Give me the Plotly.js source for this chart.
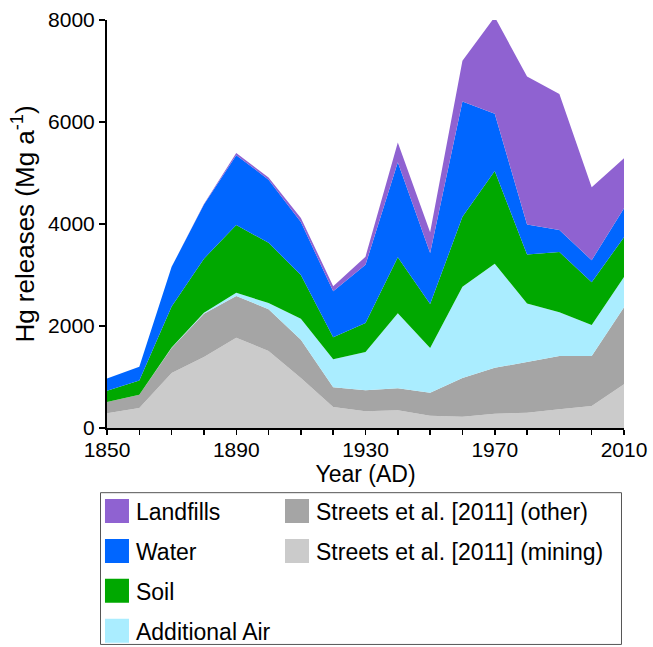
<!DOCTYPE html>
<html>
<head>
<meta charset="utf-8">
<script src="https://cdn.plot.ly/plotly-3.0.1.min.js"></script>
<style>html,body{margin:0;padding:0;background:#fff;}#chart{width:653px;height:647px;}</style>
</head>
<body>
<div id="chart"></div>
<script>
const years = [1850,1860,1870,1880,1890,1900,1910,1920,1930,1940,1950,1960,1970,1980,1990,2000,2010];
const mining    = [290, 390,1080,1390,1770,1510, 980, 410, 330, 350, 240, 220, 280, 300, 370, 430, 860];
const other     = [220, 260, 490, 850, 820, 820, 750, 390, 410, 430, 450, 760, 900,1000,1040, 980,1510];
const addAir    = [  0,   0,  10,  20,  60, 120, 410, 550, 750,1470, 880,1790,2040,1140, 860, 610, 590];
const soil      = [220, 280, 800,1060,1330,1180, 860, 430, 570,1100, 860,1370,1820, 960,1180, 840, 780];
const water     = [240, 270, 780,1060,1370,1240,1040, 900,1140,1860,1000,2260,1120, 590, 430, 430, 570];
const landfills = [  0,   0,   0,  10,  40,  40,  80, 100, 160, 390, 410, 800,1900,2900,2670,1430, 980];

const seriesNames = ['Streets et al. [2011] (mining)','Streets et al. [2011] (other)','Additional Air','Soil','Water','Landfills'];
const seriesColors = ['#cbcbcb','#a5a5a5','#aaedff','#00a800','#0066ff','#8f62d1'];
const seriesLegend = ['legend2','legend2','legend','legend','legend','legend'];
const seriesRank = [2,1,4,3,2,1];
const seriesData = [mining, other, addAir, soil, water, landfills];

const xTickVals = [1850,1860,1870,1880,1890,1900,1910,1920,1930,1940,1950,1960,1970,1980,1990,2000,2010];
const xTickText = ['1850','','','','1890','','','','1930','','','','1970','','','','2010'];

const traces = seriesData.map((vals, i) => ({
  type: 'scatter',
  mode: 'lines',
  x: years,
  y: vals,
  name: seriesNames[i],
  stackgroup: 'one',
  fill: 'tonexty',
  fillcolor: seriesColors[i],
  line: {width: 0, color: seriesColors[i]},
  legend: seriesLegend[i],
  legendgroup: 'g' + i,
  legendrank: seriesRank[i],
  hoverinfo: 'x+y+name'
}));

const font = {family: '"Liberation Sans", Arial, sans-serif', color: '#000'};
const legendCommon = {
  orientation: 'v', xanchor: 'left', yanchor: 'top',
  bgcolor: 'rgba(0,0,0,0)', borderwidth: 0,
  font: {family: font.family, size: 23, color: '#000'},
  traceorder: 'grouped', tracegroupgap: 7
};

const layout = {
  width: 653, height: 647,
  margin: {l: 107, r: 29, t: 20, b: 219, autoexpand: false},
  paper_bgcolor: '#fff', plot_bgcolor: '#fff',
  font: font,
  showlegend: true,
  xaxis: {
    range: [1850, 2010],
    tickmode: 'array', tickvals: xTickVals, ticktext: xTickText,
    ticks: 'outside', ticklen: 5, tickwidth: 1.5, tickcolor: '#000',
    ticklabelstandoff: -3,
    showline: true, linecolor: '#000', linewidth: 2,
    showgrid: false, zeroline: false,
    tickfont: {family: font.family, size: 21, color: '#000'},
    title: {text: 'Year (AD)', font: {family: font.family, size: 23, color: '#000'}, standoff: 0}
  },
  yaxis: {
    range: [0, 8000],
    tickvals: [0, 2000, 4000, 6000, 8000],
    ticks: 'outside', ticklen: 6, tickwidth: 1.5, tickcolor: '#000',
    showline: true, linecolor: '#000', linewidth: 2,
    showgrid: false, zeroline: false,
    tickfont: {family: font.family, size: 21, color: '#000'},
    title: {text: 'Hg releases (Mg a<sup>-1</sup>)', font: {family: font.family, size: 26, color: '#000'}, standoff: 6}
  },
  legend: Object.assign({}, legendCommon, {x: -0.0213, y: -0.151}),
  legend2: Object.assign({}, legendCommon, {x: 0.3269, y: -0.151}),
  shapes: [{
    type: 'rect', xref: 'paper', yref: 'paper',
    x0: -0.01257, x1: 0.99516, y0: -0.15854, y1: -0.53049,
    line: {color: '#555', width: 1}, fillcolor: 'rgba(0,0,0,0)', layer: 'above'
  }]
};

Plotly.newPlot('chart', traces, layout, {displayModeBar: false, staticPlot: true}).then(function(gd){
  gd.querySelectorAll('.legendfill path').forEach(function(p){
    p.setAttribute('d', 'M9,-12h24v24h-24z');
  });
  gd.querySelectorAll('.legendlines path').forEach(function(p){
    p.setAttribute('d', 'M0,0');
  });
});
</script>
</body>
</html>
